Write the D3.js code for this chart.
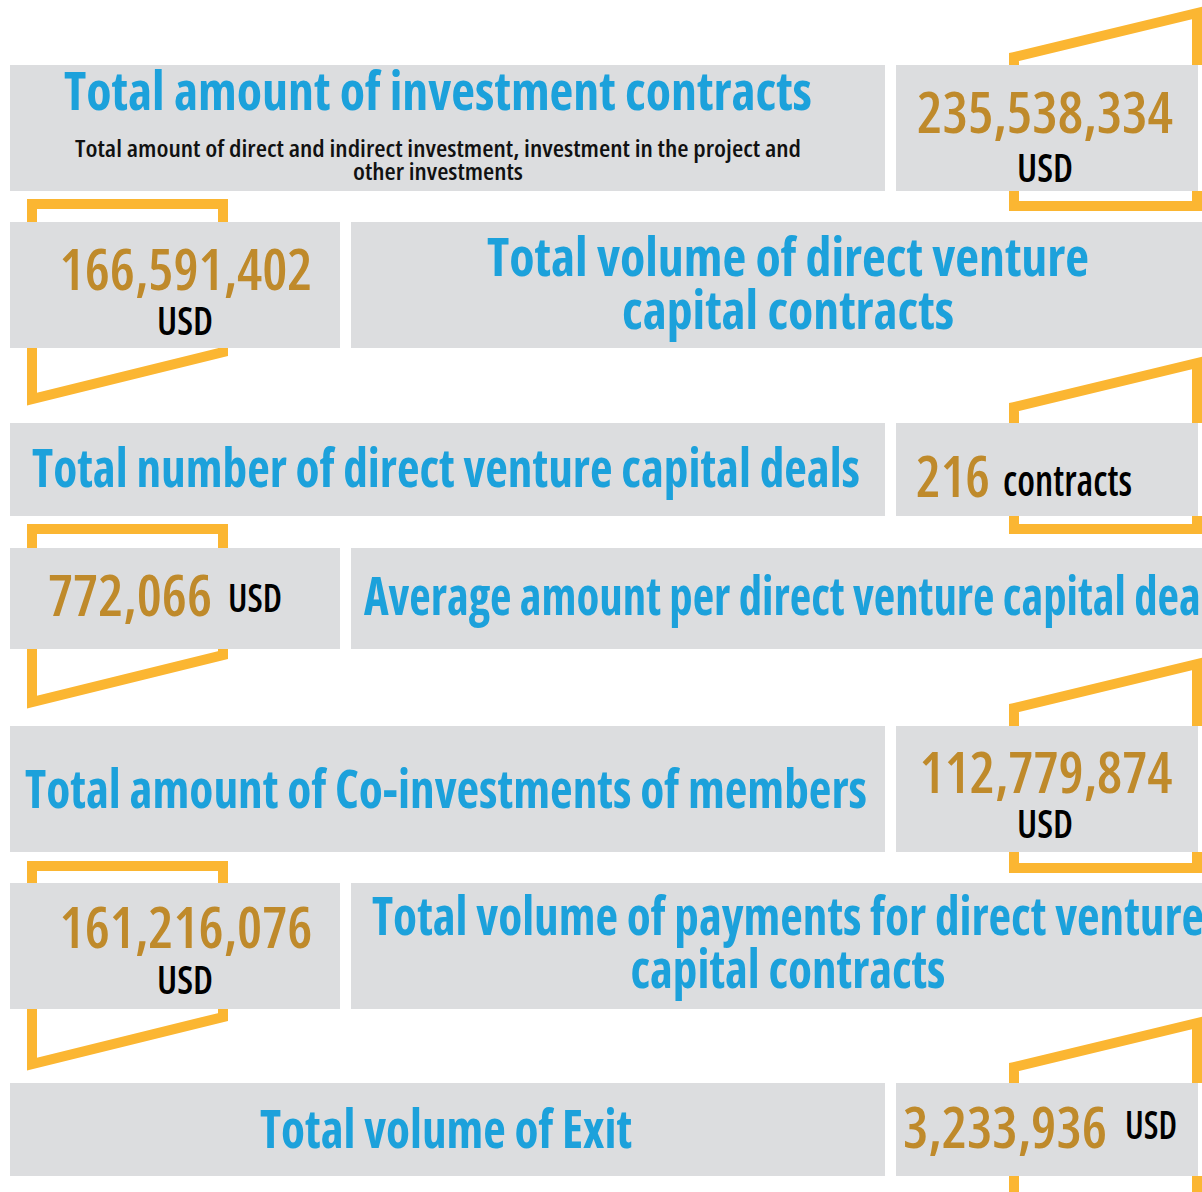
<!DOCTYPE html>
<html>
<head>
<meta charset="utf-8">
<script src="https://cdn.jsdelivr.net/npm/d3@7"></script>
<style>
  body { margin: 0; background: #fff; }
  svg text { font-family: "Open Sans", "Noto Sans", sans-serif; font-stretch: condensed; }
</style>
</head>
<body>
<div id="chart"></div>
<script>
// ---- data ----
var labels = [
    ["Total amount of investment contracts"],
    ["Total volume of direct venture", "capital contracts"],
    ["Total number of direct venture capital deals"],
    ["Average amount per direct venture capital deal"],
    ["Total amount of Co-investments of members"],
    ["Total volume of payments for direct venture", "capital contracts"],
    ["Total volume of Exit"]
];
var notes = [
    ["Total amount of direct and indirect investment, investment in the project and", "other investments"],
    [], [], [], [], [], []
];
var values = [235538334, 166591402, 216, 772066, 112779874, 161216076, 3233936];
var units = ["USD", "USD", "contracts", "USD", "USD", "USD", "USD"];
var sides = ["right", "left", "right", "left", "right", "left", "right"];

// ---- layout (row boxes, frame corners, text widths) ----
var W = 1202, H = 1192;
var rows = [
    {y0: 65,   y1: 191,  fTop: 57,   fBot: 206,  tX: 438, tY: [110], tW: [748], nY: [157, 180], nW: [726, 170],
     vX: 1045, vY: 133, vW: 256, uX: 1045, uY: 182, uW: 56, stack: true},
    {y0: 222,  y1: 348,  fTop: 204,  fBot: 352,  tY: [276, 329], tW: [602, 332],
     vX: 186, vY: 290, vW: 253, uX: 185, uY: 335, uW: 56, stack: true},
    {y0: 423,  y1: 516,  fTop: 407,  fBot: 529,  tY: [487], tW: [828],
     vX: 916, vY: 497, vW: 74, uX: 1003, uY: 496, uW: 129, stack: false},
    {y0: 548,  y1: 649,  fTop: 529,  fBot: 655,  tY: [615], tW: [848],
     vX: 48, vY: 616, vW: 164, uX: 228, uY: 612, uW: 54, stack: false},
    {y0: 726,  y1: 852,  fTop: 708,  fBot: 868,  tY: [808], tW: [842],
     vX: 1046, vY: 793, vW: 253, uX: 1045, uY: 838, uW: 56, stack: true},
    {y0: 883,  y1: 1009, fTop: 866,  fBot: 1017, tY: [935, 988], tW: [832, 315],
     vX: 186, vY: 948, vW: 253, uX: 185, uY: 994, uW: 56, stack: true},
    {y0: 1083, y1: 1176, fTop: 1067, fBot: 1232, tY: [1148], tW: [372],
     vX: 903, vY: 1148, vW: 204, uX: 1125, uY: 1139, uW: 52, stack: false}
];

var gray = "#dcdddf", blue = "#1ca1db", gold = "#bf8a2b", frameCol = "#fbb632";
var fmt = d3.format(",");

// horizontal extents of the two kinds of row
var boxX = {
    right: {label: [10, 885], value: [896, 1198]},
    left:  {value: [10, 340], label: [351, 1226]}
};
var frameX = {right: [1014, 1197], left: [32, 223]};
var slant = 44;

var svg = d3.select("#chart").append("svg")
    .attr("width", W)
    .attr("height", H);

var line = d3.line();

rows.forEach(function (r, i) {
    var side = sides[i],
        g = svg.append("g").attr("class", "row");

    // yellow frame sits behind the grey boxes
    var fx = frameX[side], pts;
    if (side === "right") {
        pts = [[fx[0], r.fTop], [fx[1], r.fTop - slant], [fx[1], r.fBot], [fx[0], r.fBot]];
    } else {
        pts = [[fx[0], r.fTop], [fx[1], r.fTop], [fx[1], r.fBot], [fx[0], r.fBot + 47]];
    }
    g.append("path")
        .attr("d", line(pts) + "Z")
        .attr("fill", "none")
        .attr("stroke", frameCol)
        .attr("stroke-width", 10)
        .attr("stroke-linejoin", "miter");

    var bx = boxX[side];
    g.append("rect")
        .attr("x", bx.label[0]).attr("y", r.y0)
        .attr("width", bx.label[1] - bx.label[0]).attr("height", r.y1 - r.y0)
        .attr("fill", gray);
    g.append("rect")
        .attr("x", bx.value[0]).attr("y", r.y0)
        .attr("width", bx.value[1] - bx.value[0]).attr("height", r.y1 - r.y0)
        .attr("fill", gray);
    if (side === "right") {
        // thin white gap at the page edge
        g.append("rect")
            .attr("x", bx.value[1]).attr("y", r.y0)
            .attr("width", W - bx.value[1]).attr("height", r.y1 - r.y0)
            .attr("fill", "#fff");
    }

    // title lines, centred in the label box
    var cx = r.tX || (side === "right" ? 446 : 788);
    labels[i].forEach(function (txt, k) {
        g.append("text")
            .attr("x", cx).attr("y", r.tY[k])
            .attr("text-anchor", "middle")
            .attr("textLength", r.tW[k])
            .attr("lengthAdjust", "spacingAndGlyphs")
            .attr("font-size", 53)
            .attr("font-weight", 700)
            .attr("fill", blue)
            .text(txt);
    });
    notes[i].forEach(function (txt, k) {
        g.append("text")
            .attr("x", 438).attr("y", r.nY[k])
            .attr("text-anchor", "middle")
            .attr("textLength", r.nW[k])
            .attr("lengthAdjust", "spacingAndGlyphs")
            .attr("font-size", 24)
            .attr("font-weight", 600)
            .attr("fill", "#111")
            .text(txt);
    });

    // value and unit
    g.append("text")
        .attr("x", r.vX).attr("y", r.vY)
        .attr("text-anchor", r.stack ? "middle" : "start")
        .attr("textLength", r.vW)
        .attr("lengthAdjust", "spacingAndGlyphs")
        .attr("font-size", 58)
        .attr("font-weight", 600)
        .attr("fill", gold)
        .text(fmt(values[i]));
    g.append("text")
        .attr("x", r.uX).attr("y", r.uY)
        .attr("text-anchor", r.stack ? "middle" : "start")
        .attr("textLength", r.uW)
        .attr("lengthAdjust", "spacingAndGlyphs")
        .attr("font-size", units[i] === "contracts" ? 44 : 39)
        .attr("font-weight", 600)
        .attr("fill", "#000")
        .text(units[i]);
});
</script>
</body>
</html>
